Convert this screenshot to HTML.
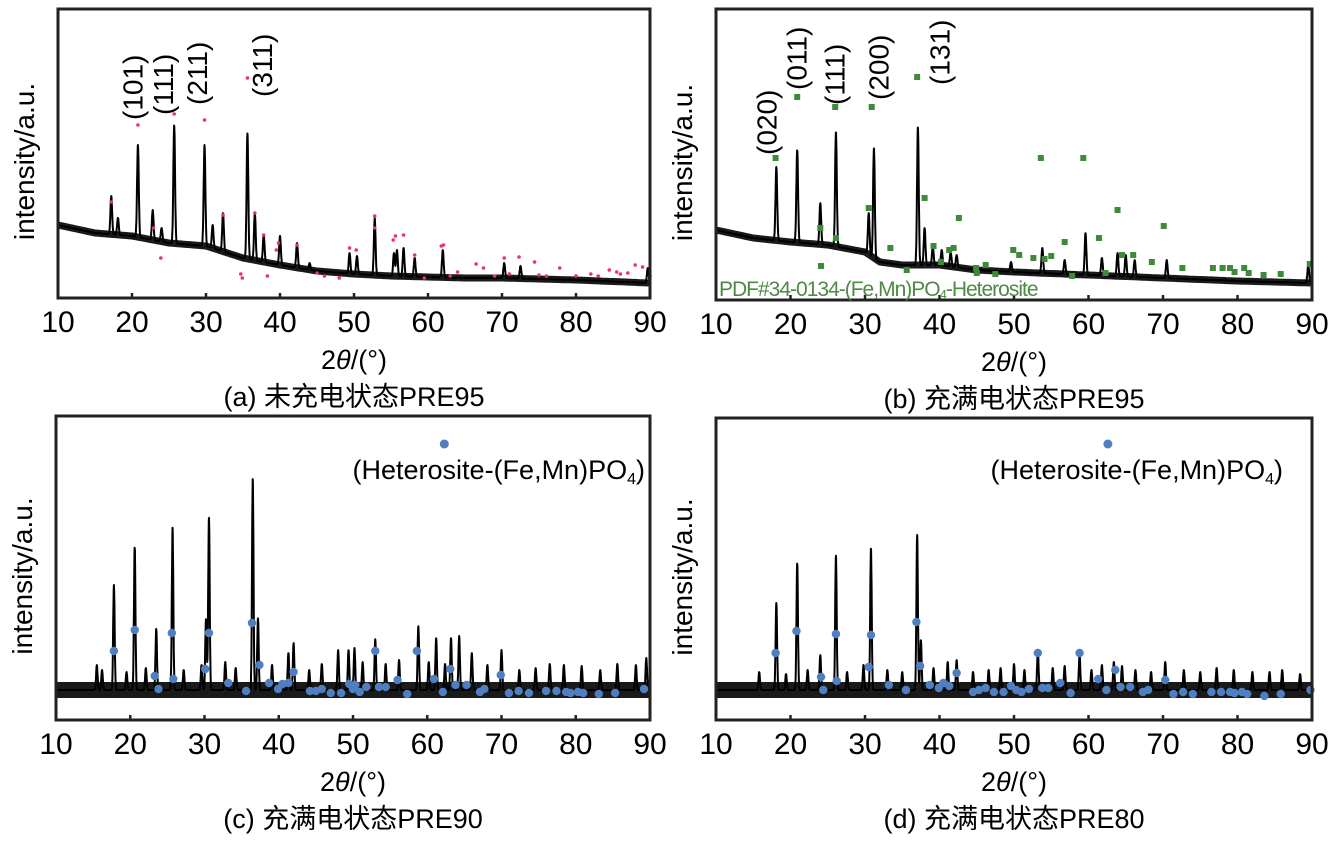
<!DOCTYPE html>
<html><head><meta charset="utf-8">
<style>
html,body{margin:0;padding:0;background:#fff;}
svg{display:block;font-family:"Liberation Sans","Noto Sans CJK SC",sans-serif;}
</style></head>
<body>
<svg id="fig" width="1337" height="841" viewBox="0 0 1337 841" xmlns="http://www.w3.org/2000/svg"></svg>
<script>
// ---- DATA (2θ positions in degrees, intensities in arbitrary units above frame bottom) ----
const xTicks = [10,20,30,40,50,60,70,80,90];
const xTickLabels = ["10","20","30","40","50","60","70","80","90"];

// Panel (a)
const aBaseX = [10,15,20,25,30,35,40,45,50,55,60,65,70,80,90];
const aBaseY = [73,65,62,55,52,40,33,27,24,22,21,20,20,18,15];
const aPeakPos = [17.2,18.1,20.8,22.8,24,25.7,29.8,30.9,32.3,35.6,36.6,37.8,40,42.3,44,49.4,50.4,52.8,55.4,55.8,56.7,58.2,62,70.3,72.5,89.7];
const aPeakTop = [102,80,153,88,70,173,153,73,85,165,85,63,62,55,35,45,42,80,45,48,50,40,48,35,32,30];
const aRefX = [17.2,20.8,25.7,29.8,35.6,22.9,23.9,32.3,36.6,37.8,39.5,39.8,42.3,34.7,34.9,38.3,49.4,50.3,52.8,52.8,55.3,55.6,56.7,58.2,61.8,62.1,66.5,67.5,70.3,72.3,74.4,77.8,84.5,85.5,88,89,86,80,82,76,46,48,45,59.5,63,64,69,71,75,83,87,90];
const aRefY = [96,173,184,178,220,70,40,83,85,63,48,55,53,24,20,22,50,48,82,70,58,62,63,43,52,53,34,30,40,41,36,30,28,26,33,31,24,22,24,22,22,20,25,20,22,26,22,24,23,22,25,22];
const aLabels = ["(101)","(111)","(211)","(311)"];
const aLabelX = [20.1,24.2,28.8,37.6];
const aLabelTop = [178,183,193,201];

// Panel (b)
const bBaseX = [10,15,20,25,30,32,35,40,45,50,60,70,80,90];
const bBaseY = [70,62,58,55,48,38,35,35,30,28,25,22,19,17];
const bPeakPos = [18.1,20.9,24,26.1,30.5,31.2,37.1,38,39.1,40.3,41.5,42.3,49.6,53.8,56.8,59.6,61.8,63.9,65,66.2,70.5,89.5];
const bPeakTop = [133,150,97,168,87,152,173,72,53,50,48,45,38,52,40,67,42,47,45,40,40,35];
const bRefX = [18,20.9,26,30.9,37,38,30.5,42.6,24,26.1,24.1,33.4,39.2,41.3,41.9,40.2,44.9,46.2,49.9,50.7,52.6,54.1,55,56.8,53.6,59.3,63.9,61.4,64.5,66,68.5,70.1,72.6,76.7,78,79,79.6,80.9,81.5,83.5,85.8,89.7,57.8,45,62.3,47.5,35.6];
const bRefY = [142,203,193,193,223,102,92,82,72,62,34,52,54,50,52,38,32,35,50,45,42,41,44,58,142,142,90,62,45,45,38,74,32,32,32,32,28,32,27,25,26,36,24,27,27,26,30];
const bLabels = ["(020)","(011)","(111)","(200)","(131)"];
const bLabelX = [16.8,20.8,25.9,31.8,40.0];
const bLabelTop = [145,210,195,200,215];

// Panel (c)
const cBaseX = [10,20,30,40,50,60,70,80,90];
const cBaseY = [30,30,30,30,30,30,30,30,30];
const cPeakPos = [15.5,16.2,17.8,19.5,20.6,22.1,23.5,25.7,27.2,29.6,30.2,30.6,32.8,34.2,36.5,37.2,39.1,41.3,42,44.1,45.8,48,49.4,50.2,51.3,53,54.4,56.2,58.8,60.2,61.2,62.4,63.2,64.3,66,68.1,70,72.4,74.6,76.5,78.4,80.8,83.3,85.6,88.1,89.5];
const cPeakTop = [55,50,135,48,173,52,91,193,50,55,101,203,58,52,242,102,55,67,77,50,56,70,70,72,58,81,56,60,94,58,82,56,82,84,67,55,70,50,52,56,55,54,50,56,55,62];
const cRefX = [17.8,20.6,25.6,30.6,36.4,23.3,23.8,25.8,30.1,33.2,35.6,37.4,38.7,39.9,40.5,41.3,42,44.2,45,45.8,47,48.4,49.5,50,50.3,50.9,51.8,53,53.5,54.4,56,57.3,58.6,60.9,62.1,63.1,63.8,65.3,67.1,67.7,69.9,71,72.3,73.7,76,77.4,78.7,79.3,80.3,81,83.1,85.3,89.2];
const cRefY = [69,90,87,87,97,44,31,41,51,37,29,55,37,31,36,37,48,29,29,31,27,27,36,31,35,28,33,69,33,33,40,26,69,41,28,51,35,35,28,31,45,27,29,27,29,29,28,27,28,27,26,27,31];

// Panel (d)
const dBaseX = [10,20,30,40,50,60,70,80,90];
const dBaseY = [30,30,30,30,30,30,30,30,30];
const dPeakPos = [15.8,18.1,19.4,20.9,22.3,24,26.1,27.6,29.8,30.8,33,35,37,37.5,39.2,41.1,42.3,44.5,46.6,48.2,50,51.4,53.2,55.2,56.8,58.8,60.4,61.8,63.4,64.5,66.3,68.4,70.3,72.8,75,77.2,79.5,82,84.3,86,88.4];
const dPeakTop = [48,117,46,157,50,65,165,48,55,172,50,48,185,80,52,58,60,48,50,52,56,50,70,52,54,65,50,55,58,54,50,48,58,50,48,52,50,48,48,50,46];
const dRefX = [18,20.8,26.1,30.8,36.9,24.1,24.4,26.2,30.5,33.2,35.5,37.4,38.7,39.9,40.5,41.3,42.3,44.5,45.3,46.2,47.3,48.6,49.6,50.3,51,52,53.2,53.8,54.6,56.2,57.6,58.8,61.3,62.4,63.6,64.3,65.6,67.3,68,70.3,71.4,72.7,74,76.5,77.8,79,79.6,80.6,81.3,83.6,85.8,89.8];
const dRefY = [67,89,86,85,98,43,30,39,53,35,30,54,35,32,37,34,47,28,30,32,28,28,34,30,28,31,67,32,32,37,27,67,41,30,50,33,33,28,30,40,26,28,26,28,28,28,27,28,26,24,26,30];

// ---- DRAWING ----
const NS = "http://www.w3.org/2000/svg";
const svg = document.getElementById("fig");
function mk(tag, attrs, parent){
  const e = document.createElementNS(NS, tag);
  for (const k in attrs) e.setAttribute(k, attrs[k]);
  (parent||svg).appendChild(e);
  return e;
}
function interp(xs, ys, x){
  if (x <= xs[0]) return ys[0];
  for (let i=1;i<xs.length;i++){
    if (x <= xs[i]){ const t=(x-xs[i-1])/(xs[i]-xs[i-1]); return ys[i-1]+t*(ys[i]-ys[i-1]); }
  }
  return ys[ys.length-1];
}

function drawPanel(p){
  const g = mk("g", {});
  
  
  const sx = v => p.x0 + (v-10)/80*(p.x1-p.x0);
  const sy = v => p.y1 - v;
  // baseline band (noise envelope)
  let bd = "";
  for (let x=10; x<=90.001; x+=0.5){
    bd += (bd?"L":"M") + sx(x).toFixed(1) + "," + sy(interp(p.baseX, p.baseY, x)).toFixed(1);
  }
  const band = mk("path", {d:bd, fill:"none", stroke:"#1a1a1a", "stroke-width":p.band, "stroke-linejoin":"round"}, g);
  
  
  // trace
  let d = "";
  for (let x=10; x<=90.001; x+=0.03){
    const base = interp(p.baseX, p.baseY, x);
    let y = base;
    for (let i=0;i<p.peakPos.length;i++){
      const bAt = interp(p.baseX, p.baseY, p.peakPos[i]);
      const h = p.peakTop[i]-bAt;
      const dx = (x-p.peakPos[i])/p.peakW;
      y += h*Math.exp(-dx*dx);
    }
    d += (d?"L":"M") + sx(x).toFixed(1) + "," + sy(y).toFixed(1);
  }
  const tr = mk("path", {d:d, fill:"none", stroke:"#000", "stroke-width":2, "stroke-linejoin":"round"}, g);
  
  
  // reference markers
  for (let i=0;i<p.refX.length;i++){
    let m;
    if (p.marker==="square"){
      m = mk("rect", {x:sx(p.refX[i])-3, y:sy(p.refY[i])-3, width:6, height:6, fill:"#3e8a3a"}, g);
    } else if (p.marker==="pink"){
      m = mk("circle", {cx:sx(p.refX[i]), cy:sy(p.refY[i]), r:1.8, fill:"#e8336e"}, g);
    } else {
      m = mk("circle", {cx:sx(p.refX[i]), cy:sy(p.refY[i]), r:4.2, fill:"#4f7fc0"}, g);
    }
    
    
  }
  // frame
  const fr = mk("rect", {x:p.x0, y:p.y0, width:p.x1-p.x0, height:p.y1-p.y0, fill:"none", stroke:"#222", "stroke-width":3}, g);
  
  
  // ticks
  for (let i=0;i<xTicks.length;i++){
    const X = sx(xTicks[i]);
    const t = mk("line", {x1:X, x2:X, y1:p.y1, y2:p.y1-5, stroke:"#222", "stroke-width":2.5}, g);
    
    
    const tl = mk("text", {x:X, y:p.y1+34, "font-size":30, "text-anchor":"middle", fill:"#000"}, g);
    tl.textContent = xTickLabels[i];
    
    
  }
  // axis titles
  const cx = (p.x0+p.x1)/2;
  const xt = mk("text", {x:cx, y:p.y1+71, "font-size":27, "text-anchor":"middle"}, g);
  xt.innerHTML = '2<tspan font-style="italic">θ</tspan>/(°)';
  
  
  const cap = mk("text", {x:cx, y:p.y1+108, "font-size":27, "text-anchor":"middle"}, g);
  cap.textContent = p.caption;
  
  
  const yt = mk("text", {x:0, y:0, "font-size":28, "text-anchor":"middle", transform:"translate("+(p.x0-24)+","+((p.y0+p.y1)/2+8)+") rotate(-90)"}, g);
  yt.textContent = "intensity/a.u.";
  
  
  // hkl labels
  if (p.labels){
    for (let i=0;i<p.labels.length;i++){
      const L = mk("text", {x:0, y:0, "font-size":28, "text-anchor":"start", transform:"translate("+(sx(p.labelX[i])+10)+","+sy(p.labelTop[i])+") rotate(-90)"}, g);
      L.textContent = p.labels[i];
      
      
    }
  }
  return {g, sx, sy};
}

drawPanel({name:"panel-a", x0:58, x1:650, y0:9, y1:298, baseX:aBaseX, baseY:aBaseY, peakPos:aPeakPos, peakTop:aPeakTop, peakW:0.16, band:7, refX:aRefX, refY:aRefY, marker:"pink", caption:"(a) 未充电状态PRE95", labels:aLabels, labelX:aLabelX, labelTop:aLabelTop});
const pb = drawPanel({name:"panel-b", x0:716, x1:1312, y0:9, y1:300, baseX:bBaseX, baseY:bBaseY, peakPos:bPeakPos, peakTop:bPeakTop, peakW:0.16, band:7, refX:bRefX, refY:bRefY, marker:"square", caption:"(b) 充满电状态PRE95", labels:bLabels, labelX:bLabelX, labelTop:bLabelTop});
const pdf = mk("text", {x:719, y:296, "font-size":21, fill:"#4f8a44", "letter-spacing":"-1"}, pb.g);
pdf.innerHTML = 'PDF#34-0134-(Fe,Mn)PO<tspan font-size="13" dy="3">4</tspan><tspan dy="-3">-Heterosite</tspan>';



const pc = drawPanel({name:"panel-c", x0:56, x1:650, y0:416, y1:720, baseX:cBaseX, baseY:cBaseY, peakPos:cPeakPos, peakTop:cPeakTop, peakW:0.14, band:16, refX:cRefX, refY:cRefY, marker:"blue", caption:"(c) 充满电状态PRE90"});
const pd = drawPanel({name:"panel-d", x0:716, x1:1312, y0:418, y1:720, baseX:dBaseX, baseY:dBaseY, peakPos:dPeakPos, peakTop:dPeakTop, peakW:0.14, band:16, refX:dRefX, refY:dRefY, marker:"blue", caption:"(d) 充满电状态PRE80"});

function legend(pp, xDeg, xEnd, g){
  const c = mk("circle", {cx:pp.sx(xDeg), cy:444, r:4.5, fill:"#4f7fc0"}, g);
  
  
  const t = mk("text", {x:xEnd, y:479, "font-size":27, "text-anchor":"end"}, g);
  t.innerHTML = '(Heterosite-(Fe,Mn)PO<tspan font-size="16" dy="5">4</tspan><tspan dy="-5">)</tspan>';
  
  
}
legend(pc, 62.3, 645, pc.g);
legend(pd, 62.6, 1283, pd.g);
</script>
</body></html>
